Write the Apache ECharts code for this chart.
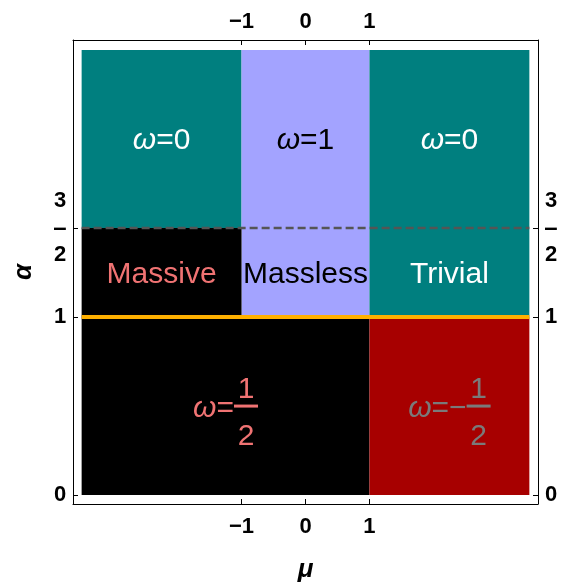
<!DOCTYPE html>
<html>
<head>
<meta charset="utf-8">
<script src="https://cdn.jsdelivr.net/npm/echarts@6/dist/echarts.min.js"></script>
<style>
  html, body { margin: 0; padding: 0; background: #fff; }
  #chart { width: 566px; height: 585px; }
</style>
</head>
<body>
<div id="chart"></div>
<script>
// phase regions: [mu0, mu1, alpha0, alpha1]
var regions = [
  [-3.5, -1, 1.5, 2.5],
  [-1, 1, 1, 2.5],
  [1, 3.5, 1, 2.5],
  [-3.5, -1, 1, 1.5],
  [-3.5, 1, 0, 1],
  [1, 3.5, 0, 1]
];
var regionColors = ['#007f7f', '#a3a3ff', '#007f7f', '#000000', '#000000', '#a70000'];

// boundary lines
var critLine = [[-3.5, 1], [3.5, 1]];
var halfLine = [[-3.5, 1.5], [3.5, 1.5]];

// region labels: [mu, alpha]
var labelPos = [[-2.25, 2], [0, 2], [2.25, 2], [-2.25, 1.25], [0, 1.25], [2.25, 1.25]];
var labelText = ['{i|ω}=0', '{i|ω}=1', '{i|ω}=0', 'Massive', 'Massless', 'Trivial'];
var labelColor = ['#ffffff', '#000000', '#ffffff', '#f07373', '#000000', '#ffffff'];

// fraction labels
var fracPos = [[-1.25, 0.5], [2.25, 0.5]];
var fracPrefix = ['=', '=−'];
var fracNum = ['1', '1'];
var fracDen = ['2', '2'];
var fracColor = ['#f07373', '#7a7a7a'];

var muTicks = [-1, 0, 1];
var alphaTicks = [0, 1, 1.5];

var muMin = -3.635, muMax = 3.635;
var alphaMin = -0.05, alphaMax = 2.556;

var FONT = '"Liberation Sans", Arial, sans-serif';
var textSize = 30;
var tickSize = 22;

var measureCtx = document.createElement('canvas').getContext('2d');
function textWidth(str, style) {
  measureCtx.font = style + ' ' + textSize + 'px ' + FONT;
  return measureCtx.measureText(str).width;
}

function fmtMu(v) {
  return v < 0 ? '−' + Math.abs(v) : String(v);
}
function fmtAlpha(v) {
  if (v === 1.5) return '{n|3}\n{b|–}\n{n|2}';
  return '{n|' + v + '}';
}

var labelRich = {
  n: { fontSize: tickSize, fontWeight: 'bold', lineHeight: 28, width: 14, align: 'center', color: '#000', fontFamily: FONT },
  b: { fontSize: tickSize + 2, fontWeight: 'bold', lineHeight: 26, width: 14, align: 'center', color: '#000', fontFamily: FONT }
};

var chart = echarts.init(document.getElementById('chart'));

function xAxisCfg(pos, showName) {
  return {
    type: 'value', position: pos, min: muMin, max: muMax,
    name: showName ? 'μ' : '', nameLocation: 'middle', nameGap: 53,
    nameTextStyle: { fontSize: 26, fontWeight: 'bold', fontStyle: 'italic', color: '#000', fontFamily: FONT },
    axisLine: { show: true, onZero: false, lineStyle: { color: '#000', width: 1 } },
    axisTick: { show: true, inside: true, length: 5, customValues: muTicks, lineStyle: { color: '#000' } },
    axisLabel: { customValues: muTicks, formatter: fmtMu, fontSize: tickSize, fontWeight: 'bold', color: '#000', margin: pos === 'top' ? 7 : 12, fontFamily: FONT },
    splitLine: { show: false }
  };
}
function yAxisCfg(pos, showName) {
  return {
    type: 'value', position: pos, min: alphaMin, max: alphaMax,
    name: showName ? 'α' : '', nameLocation: 'middle', nameGap: 36,
    nameTextStyle: { fontSize: 26, fontWeight: 'bold', fontStyle: 'italic', color: '#000', fontFamily: FONT },
    axisLine: { show: true, onZero: false, lineStyle: { color: '#000', width: 1 } },
    axisTick: { show: true, inside: true, length: 5, customValues: alphaTicks, lineStyle: { color: '#000' } },
    axisLabel: { customValues: alphaTicks, formatter: fmtAlpha, rich: labelRich, margin: pos === 'left' ? 6 : 6 },
    splitLine: { show: false }
  };
}

chart.setOption({
  backgroundColor: '#ffffff',
  animation: false,
  grid: { left: 73, right: 28, top: 40, bottom: 81, containLabel: false, outerBoundsMode: 'none' },
  xAxis: [xAxisCfg('bottom', true), xAxisCfg('top', false)],
  yAxis: [yAxisCfg('left', true), yAxisCfg('right', false)],
  series: [
    {
      type: 'custom',
      data: regions,
      clip: true,
      renderItem: function (params, api) {
        var p0 = api.coord([api.value(0), api.value(3)]);
        var p1 = api.coord([api.value(1), api.value(2)]);
        return {
          type: 'rect',
          shape: { x: p0[0], y: p0[1], width: p1[0] - p0[0], height: p1[1] - p0[1] },
          style: { fill: regionColors[params.dataIndex] }
        };
      }
    },
    {
      type: 'line', data: halfLine, symbol: 'none', z: 5,
      lineStyle: { color: '#555555', width: 2.5, type: [8, 4] }
    },
    {
      type: 'line', data: critLine, symbol: 'none', z: 5,
      lineStyle: { color: '#ffb000', width: 4 }
    },
    {
      type: 'custom',
      data: labelPos,
      z: 10,
      renderItem: function (params, api) {
        var p = api.coord([api.value(0), api.value(1)]);
        var i = params.dataIndex;
        return {
          type: 'text',
          x: p[0], y: p[1] + 2,
          style: {
            text: labelText[i], fill: labelColor[i],
            fontSize: textSize, fontFamily: FONT,
            align: 'center', verticalAlign: 'middle',
            rich: { i: { fontStyle: 'italic', fontSize: textSize, fontFamily: FONT, fill: labelColor[i] } }
          }
        };
      }
    },
    {
      type: 'custom',
      data: fracPos,
      z: 10,
      renderItem: function (params, api) {
        var p = api.coord([api.value(0), api.value(1)]);
        var i = params.dataIndex;
        var col = fracColor[i];
        var preW = textWidth('ω', 'italic') + textWidth(fracPrefix[i], 'normal');
        var barW = 24;
        var left = p[0] - (preW + barW) / 2;
        var barX = left + preW;
        return {
          type: 'group',
          children: [
            {
              type: 'text', x: left, y: p[1] + 3,
              style: {
                text: '{i|ω}' + fracPrefix[i], fill: col, fontSize: textSize, fontFamily: FONT,
                align: 'left', verticalAlign: 'middle',
                rich: { i: { fontStyle: 'italic', fontSize: textSize, fontFamily: FONT, fill: col } }
              }
            },
            { type: 'rect', shape: { x: barX, y: p[1] - 1.5, width: barW, height: 3 }, style: { fill: col } },
            {
              type: 'text', x: barX + barW / 2, y: p[1] - 16,
              style: { text: fracNum[i], fill: col, fontSize: textSize, fontFamily: FONT, align: 'center', verticalAlign: 'middle' }
            },
            {
              type: 'text', x: barX + barW / 2, y: p[1] + 31,
              style: { text: fracDen[i], fill: col, fontSize: textSize, fontFamily: FONT, align: 'center', verticalAlign: 'middle' }
            }
          ]
        };
      }
    }
  ]
});
</script>
</body>
</html>
